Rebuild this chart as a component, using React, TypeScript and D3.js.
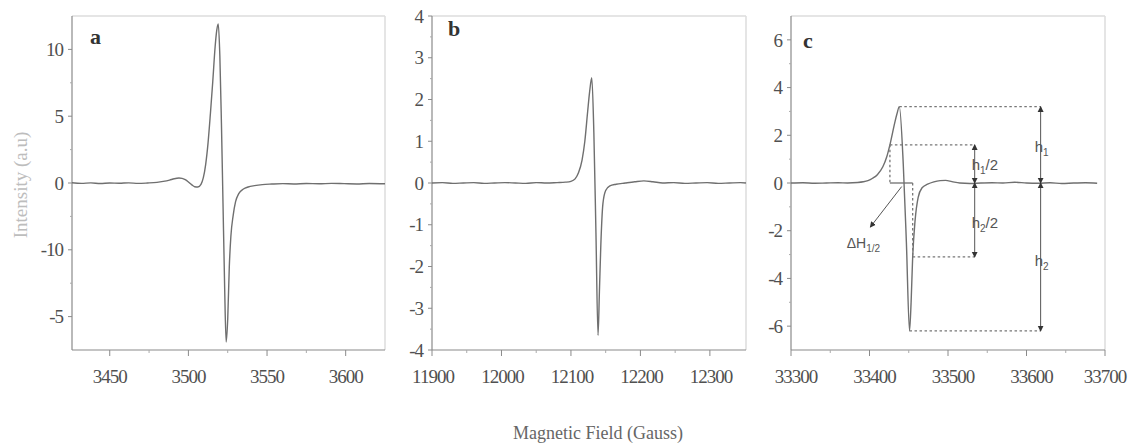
import React from 'react';
import * as d3 from 'd3';

// ---------- Panel a ----------
const fieldA = [3426, 3432, 3438, 3444, 3450, 3456, 3462, 3468, 3474, 3480, 3484, 3488, 3491, 3494, 3496, 3498, 3500, 3502, 3504, 3506, 3508, 3509.5, 3511, 3512.5, 3514, 3515.5, 3517, 3518, 3519, 3520, 3521, 3522, 3523, 3524, 3525, 3526, 3527, 3528.5, 3530, 3532, 3535, 3538, 3542, 3547, 3553, 3560, 3567, 3575, 3583, 3591, 3599, 3607, 3615, 3625];
const intensityA = [0.02, -0.03, 0.01, -0.04, 0.0, -0.02, 0.01, -0.03, 0.0, 0.05, 0.12, 0.22, 0.32, 0.37, 0.35, 0.25, 0.08, -0.12, -0.28, -0.3, -0.1, 0.4, 1.4, 3.0, 5.2, 7.6, 10.2, 11.4, 11.9, 9.5, 4.5, -1.5, -7.5, -11.9, -10.2, -6.3, -4.0, -2.4, -1.4, -0.8, -0.45, -0.3, -0.2, -0.12, -0.08, -0.05, -0.07, -0.04, -0.06, -0.03, -0.05, -0.07, -0.04, -0.06];
const xDomainA = [3426, 3625];
const yDomainA = [-12.5, 12.5];
const xTicksA = [3450, 3500, 3550, 3600];
const xTickLabelsA = ['3450', '3500', '3550', '3600'];
const xMinorA = [3475, 3525, 3575];
const yTicksA = [10, 5, 0, -5, -10];
const yTickLabelsA = ['10', '5', '0', '-10', '-5'];
const yMinorA = [7.5, 2.5, -2.5, -7.5];

// ---------- Panel b ----------
const fieldB = [11900, 11915, 11930, 11945, 11960, 11975, 11990, 12005, 12020, 12035, 12050, 12065, 12080, 12092, 12100, 12106, 12111, 12116, 12120, 12124, 12127, 12130, 12133, 12136, 12139, 12141, 12143, 12146, 12150, 12156, 12165, 12178, 12192, 12205, 12218, 12232, 12248, 12264, 12280, 12296, 12312, 12328, 12344, 12352];
const intensityB = [0.0, 0.01, -0.01, 0.0, 0.01, -0.01, 0.0, 0.01, 0.0, -0.01, 0.01, 0.0, 0.01, 0.02, 0.04, 0.1, 0.25, 0.55, 1.0, 1.7, 2.2, 2.52, 1.2, -1.2, -3.65, -2.6, -1.5, -0.5, -0.18, -0.07, -0.03, 0.0, 0.03, 0.05, 0.03, 0.0, 0.01, -0.01, 0.0, 0.01, -0.01, 0.0, 0.01, 0.0];
const xDomainB = [11900, 12352];
const yDomainB = [-4, 4];
const xTicksB = [11900, 12000, 12100, 12200, 12300];
const xTickLabelsB = ['11900', '12000', '12100', '12200', '12300'];
const xMinorB = [11950, 12050, 12150, 12250];
const yTicksB = [4, 3, 2, 1, 0, -1, -2, -3, -4];
const yTickLabelsB = ['4', '3', '2', '1', '0', '-1', '-2', '-3', '-4'];
const yMinorB = [3.5, 2.5, 1.5, 0.5, -0.5, -1.5, -2.5, -3.5];

// ---------- Panel c ----------
const fieldC = [33300, 33315, 33330, 33345, 33360, 33372, 33385, 33392, 33398, 33404, 33410, 33417, 33422, 33426, 33432, 33435, 33438, 33443, 33447, 33451, 33453, 33455, 33458, 33462, 33467, 33474, 33482, 33490, 33497, 33505, 33515, 33528, 33542, 33556, 33570, 33585, 33600, 33615, 33630, 33645, 33660, 33675, 33690];
const intensityC = [0.0, 0.01, -0.01, 0.0, 0.01, 0.0, 0.02, 0.05, 0.1, 0.2, 0.35, 0.68, 1.1, 1.6, 2.5, 2.9, 3.2, 0.8, -2.5, -6.2, -5.0, -3.1, -1.6, -0.6, -0.2, -0.05, 0.05, 0.1, 0.11, 0.06, 0.0, -0.02, 0.0, 0.01, 0.0, 0.03, 0.0, -0.01, 0.01, -0.02, 0.0, 0.01, -0.01];
const xDomainC = [33300, 33700];
const yDomainC = [-7, 7];
const xTicksC = [33300, 33400, 33500, 33600, 33700];
const xTickLabelsC = ['33300', '33400', '33500', '33600', '33700'];
const xMinorC = [33350, 33450, 33550, 33650];
const yTicksC = [6, 4, 2, 0, -2, -4, -6];
const yTickLabelsC = ['6', '4', '2', '0', '-2', '-4', '-6'];
const yMinorC = [5, 3, 1, -1, -3, -5];

// annotation values for panel c (field, intensity)
const peakC = [33438, 3.2];
const troughC = [33451, -6.2];
const halfUpC = [33426, 1.6];
const halfDownC = [33455, -3.1];
const halfArrowField = 33534;
const fullArrowField = 33618;
const deltaArrowStart = [33441, -0.15];
const deltaArrowEnd = [33401, -1.85];

const panelLetters = ['a', 'b', 'c'];
const yTitle = 'Intensity (a.u)';
const xTitle = 'Magnetic Field (Gauss)';

const TOP = 16;
const BOTTOM = 350;
const SERIF = '"Liberation Serif", "Times New Roman", serif';
const SANS = '"Liberation Sans", Arial, sans-serif';
const CURVE = '#6f6f6f';

type PanelProps = {
  left: number; right: number;
  xDomain: number[]; yDomain: number[];
  xs: number[]; ys: number[];
  xTicks: number[]; xTickLabels: string[]; xMinor: number[];
  yTicks: number[]; yTickLabels: string[]; yMinor: number[];
  letter: string; letterX: number; letterY: number; labelDx: number;
  annotate?: (x: d3.ScaleLinear<number, number>, y: d3.ScaleLinear<number, number>) => React.ReactNode;
};

function Panel(p: PanelProps) {
  const x = d3.scaleLinear().domain(p.xDomain).range([p.left, p.right]);
  const y = d3.scaleLinear().domain(p.yDomain).range([BOTTOM, TOP]);
  const line = d3.line<number>().x((_, i) => x(p.xs[i])).y((d) => y(d)).curve(d3.curveMonotoneX);
  return (
    <g>
      {/* frame */}
      <line x1={p.left} x2={p.right} y1={TOP} y2={TOP} stroke="#dcdcdc" strokeWidth={1.5} />
      <line x1={p.right} x2={p.right} y1={TOP} y2={BOTTOM} stroke="#dcdcdc" strokeWidth={1.5} />
      <line x1={p.left} x2={p.left} y1={TOP} y2={BOTTOM} stroke="#8a8a8a" strokeWidth={1.2} />
      <line x1={p.left} x2={p.right} y1={BOTTOM} y2={BOTTOM} stroke="#8a8a8a" strokeWidth={1.2} />
      {/* y ticks */}
      {p.yTicks.map((t, i) => (
        <g key={'yt' + i}>
          <line x1={p.left - 4} x2={p.left} y1={y(t)} y2={y(t)} stroke="#8a8a8a" />
          <text x={p.left - 9} y={y(t)} dy="0.35em" textAnchor="end" fontFamily={SERIF} fontSize={19} letterSpacing={-1} fill="#505050">
            {p.yTickLabels[i]}
          </text>
        </g>
      ))}
      {p.yMinor.map((t, i) => (
        <line key={'ym' + i} x1={p.left - 2} x2={p.left} y1={y(t)} y2={y(t)} stroke="#aaa" />
      ))}
      {/* x ticks */}
      {p.xTicks.map((t, i) => (
        <g key={'xt' + i}>
          <line x1={x(t)} x2={x(t)} y1={BOTTOM} y2={BOTTOM + 6} stroke="#8a8a8a" />
          <text x={Math.min(x(t) + p.labelDx, 1105)} y={BOTTOM + 33} textAnchor="middle"
            fontFamily={SERIF} fontSize={19} fill="#505050" letterSpacing={-1}>
            {p.xTickLabels[i]}
          </text>
        </g>
      ))}
      {p.xMinor.map((t, i) => (
        <line key={'xm' + i} x1={x(t)} x2={x(t)} y1={BOTTOM} y2={BOTTOM + 3} stroke="#aaa" />
      ))}
      {/* curve */}
      <path d={line(p.ys) || ''} fill="none" stroke={CURVE} strokeWidth={1.4} />
      {/* letter */}
      <text x={p.left + p.letterX} y={p.letterY} fontFamily={SERIF} fontWeight="bold" fontSize={22} fill="#333">
        {p.letter}
      </text>
      {p.annotate ? p.annotate(x, y) : null}
    </g>
  );
}

function annotateC(x: d3.ScaleLinear<number, number>, y: d3.ScaleLinear<number, number>) {
  const dot = { stroke: '#777', strokeWidth: 1.3, strokeDasharray: '2.5,2.5', fill: 'none' } as const;
  const arr = { stroke: '#555', strokeWidth: 1, markerStart: 'url(#ah)', markerEnd: 'url(#ah)' } as const;
  const lbl = { fontFamily: SANS, fontSize: 15, fill: '#555' } as const;
  return (
    <g>
      {/* dotted guide lines */}
      <line x1={x(peakC[0])} x2={x(fullArrowField)} y1={y(peakC[1])} y2={y(peakC[1])} style={dot} />
      <line x1={x(halfUpC[0])} x2={x(halfArrowField)} y1={y(halfUpC[1])} y2={y(halfUpC[1])} style={dot} />
      <line x1={x(halfUpC[0])} x2={x(halfUpC[0])} y1={y(halfUpC[1])} y2={y(0)} style={dot} />
      <line x1={x(halfUpC[0])} x2={x(halfDownC[0])} y1={y(0)} y2={y(0)} stroke={CURVE} strokeWidth={1.3} />
      <line x1={x(halfDownC[0])} x2={x(halfDownC[0])} y1={y(0)} y2={y(halfDownC[1])} style={dot} />
      <line x1={x(halfDownC[0])} x2={x(halfArrowField)} y1={y(halfDownC[1])} y2={y(halfDownC[1])} style={dot} />
      <line x1={x(troughC[0])} x2={x(fullArrowField)} y1={y(troughC[1])} y2={y(troughC[1])} style={dot} />
      {/* double arrows */}
      <line x1={x(halfArrowField)} x2={x(halfArrowField)} y1={y(halfUpC[1])} y2={y(0)} style={arr} />
      <line x1={x(halfArrowField)} x2={x(halfArrowField)} y1={y(0)} y2={y(halfDownC[1])} style={arr} />
      <line x1={x(fullArrowField)} x2={x(fullArrowField)} y1={y(peakC[1])} y2={y(0)} style={arr} />
      <line x1={x(fullArrowField)} x2={x(fullArrowField)} y1={y(0)} y2={y(troughC[1])} style={arr} />
      {/* delta H arrow */}
      <line x1={x(deltaArrowStart[0])} y1={y(deltaArrowStart[1])} x2={x(deltaArrowEnd[0])} y2={y(deltaArrowEnd[1])}
        stroke="#555" strokeWidth={1} markerEnd="url(#ah)" />
      {/* labels */}
      <text x={x(halfArrowField) - 3} y={y(0.75)} dy="0.35em" {...lbl}>
        h<tspan fontSize={10} dy={4}>1</tspan><tspan dy={-4}>/2</tspan>
      </text>
      <text x={x(halfArrowField) - 3} y={y(-1.65)} dy="0.35em" {...lbl}>
        h<tspan fontSize={10} dy={4}>2</tspan><tspan dy={-4}>/2</tspan>
      </text>
      <text x={x(fullArrowField) - 6} y={y(1.5)} dy="0.35em" {...lbl}>
        h<tspan fontSize={10} dy={4}>1</tspan>
      </text>
      <text x={x(fullArrowField) - 6} y={y(-3.25)} dy="0.35em" {...lbl}>
        h<tspan fontSize={10} dy={4}>2</tspan>
      </text>
      <text x={x(33371)} y={y(-2.5)} dy="0.35em" {...lbl} fontSize={14}>
        ΔH<tspan fontSize={10} dy={4}>1/2</tspan>
      </text>
    </g>
  );
}

export default function App() {
  return (
    <svg width={1128} height={445} style={{ position: 'absolute', left: 0, top: 0, background: '#fff' }}>
      <defs>
        <marker id="ah" viewBox="0 0 8 8" refX={7} refY={4} markerWidth={6} markerHeight={7} orient="auto-start-reverse" markerUnits="userSpaceOnUse">
          <path d="M0,0 L8,4 L0,8 z" fill="#333" />
        </marker>
      </defs>
      <rect x={0} y={0} width={1128} height={445} fill="#fff" />
      <Panel left={72} right={385} xDomain={xDomainA} yDomain={yDomainA} xs={fieldA} ys={intensityA}
        xTicks={xTicksA} xTickLabels={xTickLabelsA} xMinor={xMinorA}
        yTicks={yTicksA} yTickLabels={yTickLabelsA} yMinor={yMinorA} letter={panelLetters[0]} letterX={18} letterY={44} labelDx={0} />
      <Panel left={432} right={746} xDomain={xDomainB} yDomain={yDomainB} xs={fieldB} ys={intensityB}
        xTicks={xTicksB} xTickLabels={xTickLabelsB} xMinor={xMinorB}
        yTicks={yTicksB} yTickLabels={yTickLabelsB} yMinor={yMinorB} letter={panelLetters[1]} letterX={16} letterY={36} labelDx={1} />
      <Panel left={791} right={1105} xDomain={xDomainC} yDomain={yDomainC} xs={fieldC} ys={intensityC}
        xTicks={xTicksC} xTickLabels={xTickLabelsC} xMinor={xMinorC}
        yTicks={yTicksC} yTickLabels={yTickLabelsC} yMinor={yMinorC} letter={panelLetters[2]} letterX={12} letterY={48} labelDx={5}
        annotate={annotateC} />
      <text transform="translate(27,185) rotate(-90)" textAnchor="middle" fontFamily={SERIF} fontSize={19} fill="#bdbdbd">
        {yTitle}
      </text>
      <text x={598} y={439} textAnchor="middle" fontFamily={SERIF} fontSize={18} fill="#666">
        {xTitle}
      </text>
    </svg>
  );
}
